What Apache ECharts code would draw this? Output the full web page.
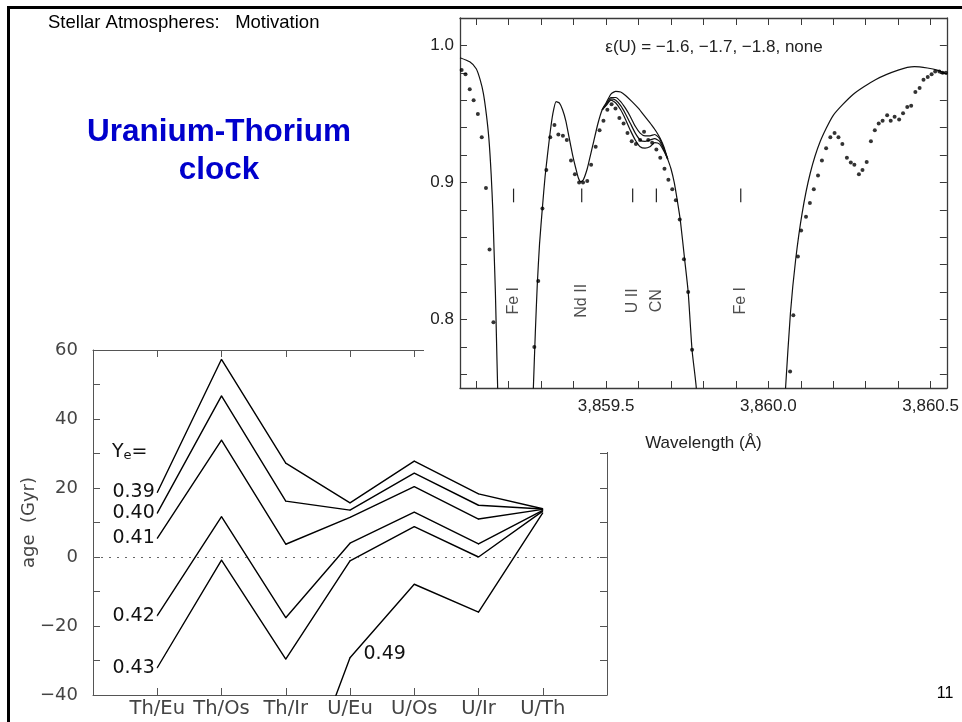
<!DOCTYPE html>
<html>
<head>
<meta charset="utf-8">
<script src="https://cdn.jsdelivr.net/npm/echarts@6/dist/echarts.min.js"></script>
<style>
  html, body { margin: 0; padding: 0; background: #fff; }
  #main { width: 962px; height: 722px; }
</style>
</head>
<body>
<div id="main"></div>
<script>
// ---------- age derived from each chronometer ratio, one line per Y_e ----------
const ratioLabels = ['Th/Eu', 'Th/Os', 'Th/Ir', 'U/Eu', 'U/Os', 'U/Ir', 'U/Th'];
const yeLabels = ['0.39', '0.40', '0.41', '0.42', '0.43', '0.49'];
const ageYe039 = [18.7, 57.3, 27.2, 15.7, 27.8, 18.3, 14.0];
const ageYe040 = [12.7, 46.7, 16.2, 13.6, 24.3, 15.0, 13.9];
const ageYe041 = [5.4, 33.9, 3.7, 11.5, 20.4, 11.0, 13.8];
const ageYe042 = [-17.0, 11.7, -17.6, 4.0, 13.0, 3.8, 13.5];
const ageYe043 = [-32.1, -0.9, -29.6, -1.1, 8.8, 0.0, 13.3];
const ageYe049 = [null, null, -79.0, -29.2, -7.9, -16.0, 12.8];
const ageLabelTicks = [-40, -20, 0, 20, 40, 60];

// ---------- CS 31082-001 spectrum around the U II line ----------
const observed = [
  [3859.055, 0.982], [3859.067, 0.979], [3859.080, 0.968], [3859.092, 0.960], [3859.105, 0.950],
  [3859.117, 0.933], [3859.130, 0.896], [3859.141, 0.851], [3859.153, 0.798],
  [3859.279, 0.780], [3859.291, 0.828], [3859.304, 0.881], [3859.316, 0.909], [3859.328, 0.933],
  [3859.341, 0.942], [3859.353, 0.935], [3859.367, 0.934], [3859.379, 0.931], [3859.392, 0.916],
  [3859.404, 0.906], [3859.417, 0.900], [3859.429, 0.900], [3859.442, 0.901], [3859.454, 0.913],
  [3859.468, 0.926], [3859.480, 0.938], [3859.492, 0.945], [3859.504, 0.953], [3859.517, 0.957],
  [3859.529, 0.954], [3859.541, 0.947], [3859.554, 0.943], [3859.566, 0.936], [3859.579, 0.930],
  [3859.592, 0.928], [3859.605, 0.931], [3859.617, 0.937], [3859.630, 0.931], [3859.642, 0.929],
  [3859.655, 0.924], [3859.667, 0.918], [3859.680, 0.910], [3859.692, 0.902], [3859.704, 0.895],
  [3859.715, 0.887], [3859.727, 0.873], [3859.740, 0.844], [3859.753, 0.820], [3859.765, 0.778],
  [3860.067, 0.762], [3860.077, 0.803], [3860.091, 0.846], [3860.101, 0.865], [3860.116, 0.875],
  [3860.128, 0.885], [3860.140, 0.895], [3860.153, 0.905], [3860.165, 0.916], [3860.178, 0.925],
  [3860.191, 0.933], [3860.204, 0.936], [3860.216, 0.933], [3860.228, 0.928], [3860.242, 0.918],
  [3860.254, 0.9145], [3860.265, 0.913], [3860.279, 0.906], [3860.290, 0.909], [3860.303, 0.915],
  [3860.316, 0.930], [3860.328, 0.938], [3860.340, 0.943], [3860.352, 0.945], [3860.366, 0.949],
  [3860.377, 0.945], [3860.389, 0.948], [3860.403, 0.946], [3860.415, 0.9505], [3860.428, 0.955],
  [3860.440, 0.956], [3860.453, 0.966], [3860.466, 0.969], [3860.478, 0.975], [3860.491, 0.977],
  [3860.503, 0.979], [3860.514, 0.981], [3860.527, 0.981], [3860.537, 0.980], [3860.547, 0.980]
];

// synthetic spectrum: blue part shared by all four models
const synthBlue = [
  [3859.050, 0.991], [3859.080, 0.988], [3859.100, 0.983], [3859.112, 0.975], [3859.122, 0.965],
  [3859.131, 0.950], [3859.139, 0.932], [3859.146, 0.906], [3859.151, 0.880], [3859.155, 0.850],
  [3859.159, 0.820], [3859.162, 0.790], [3859.166, 0.750], [3859.178, 0.660], [3859.220, 0.560],
  [3859.262, 0.660], [3859.276, 0.750], [3859.282, 0.790], [3859.288, 0.825], [3859.295, 0.855],
  [3859.304, 0.882], [3859.312, 0.904], [3859.320, 0.921], [3859.328, 0.937], [3859.336, 0.950],
  [3859.346, 0.959], [3859.356, 0.958], [3859.366, 0.953], [3859.376, 0.945], [3859.386, 0.933],
  [3859.397, 0.920], [3859.407, 0.910], [3859.415, 0.903], [3859.422, 0.9005], [3859.430, 0.902],
  [3859.442, 0.910], [3859.452, 0.920], [3859.462, 0.930], [3859.475, 0.943], [3859.488, 0.953]
];
// the U II blend, one segment per uranium abundance
const synthNoU = [
  [3859.500, 0.958], [3859.515, 0.9645], [3859.530, 0.9665], [3859.545, 0.966], [3859.560, 0.9635],
  [3859.580, 0.959], [3859.600, 0.954], [3859.620, 0.948], [3859.640, 0.942], [3859.655, 0.937],
  [3859.667, 0.932], [3859.678, 0.926]
];
const synthU18 = [
  [3859.500, 0.957], [3859.515, 0.962], [3859.530, 0.962], [3859.545, 0.959], [3859.560, 0.954],
  [3859.575, 0.948], [3859.590, 0.941], [3859.605, 0.936], [3859.620, 0.934], [3859.635, 0.934],
  [3859.650, 0.935], [3859.665, 0.932], [3859.678, 0.925]
];
const synthU17 = [
  [3859.500, 0.957], [3859.515, 0.961], [3859.530, 0.960], [3859.545, 0.956], [3859.560, 0.950],
  [3859.575, 0.943], [3859.590, 0.936], [3859.605, 0.931], [3859.620, 0.930], [3859.635, 0.931],
  [3859.650, 0.932], [3859.665, 0.930], [3859.678, 0.924]
];
const synthU16 = [
  [3859.500, 0.956], [3859.515, 0.960], [3859.530, 0.958], [3859.545, 0.953], [3859.560, 0.946],
  [3859.575, 0.938], [3859.590, 0.931], [3859.605, 0.926], [3859.620, 0.925], [3859.635, 0.926],
  [3859.650, 0.929], [3859.665, 0.928], [3859.678, 0.923]
];
// red part shared by all four models
const synthRed = [
  [3859.690, 0.917], [3859.700, 0.910], [3859.710, 0.900], [3859.720, 0.886], [3859.729, 0.872],
  [3859.742, 0.844], [3859.753, 0.820], [3859.765, 0.7775], [3859.778, 0.750], [3859.800, 0.660],
  [3859.915, 0.560], [3860.030, 0.660], [3860.053, 0.750], [3860.068, 0.8045], [3860.084, 0.8434],
  [3860.104, 0.8775], [3860.129, 0.9067], [3860.160, 0.930], [3860.200, 0.949], [3860.260, 0.964],
  [3860.330, 0.975], [3860.400, 0.982], [3860.450, 0.9845], [3860.490, 0.9835], [3860.520, 0.982],
  [3860.550, 0.979]
];
const lineIdWavelength = [3859.215, 3859.425, 3859.582, 3859.655, 3859.915];
const lineIdLabel = ['Fe I', 'Nd II', 'U II', 'CN', 'Fe I'];
const fluxLabelTicks = [0.8, 0.9, 1.0];
const wavelengthLabelTicks = [3859.5, 3860.0, 3860.5];

// ---------- helpers ----------
function stepList(from, to, step, digits) {
  const out = [];
  const n = Math.round((to - from) / step);
  for (let i = 0; i <= n; i++) out.push(+(from + i * step).toFixed(digits));
  return out;
}
const minus = v => (v < 0 ? '\u2212' + Math.abs(v) : String(v));
const wlFmt = v => v.toFixed(1).replace(/^(\d)(\d{3})/, '$1,$2');

const IDL_FONT = 'DejaVu Sans';
const HELV = 'Liberation Sans, Arial, Helvetica, sans-serif';
const frameGrey = '#555';
const specFrame = '#3a3a3a';

function ageSeries(values, idx) {
  const data = values.map((v, i) => [i + 1, v]);
  const labelIdx = idx === 5 ? 3 : 0;
  data[labelIdx] = {
    value: data[labelIdx],
    label: idx === 5
      ? { show: true, position: 'right', distance: 13, offset: [0, -4], formatter: yeLabels[idx] }
      : { show: true, position: 'left', distance: 2, formatter: yeLabels[idx] }
  };
  return {
    type: 'line', xAxisIndex: 0, yAxisIndex: 0, data,
    symbol: 'circle', symbolSize: 1, showSymbol: true, clip: true, silent: true,
    itemStyle: { color: '#000' },
    lineStyle: { color: '#000', width: 1.4 },
    label: { fontFamily: IDL_FONT, fontSize: 19, color: '#111' },
    zlevel: 0
  };
}

const specLine = (data) => ({
  type: 'line', xAxisIndex: 2, yAxisIndex: 2, data,
  symbol: 'none', clip: true, silent: true, smooth: 0.2,
  lineStyle: { color: '#111', width: 1.2 },
  zlevel: 1, z: 3
});
const joinBlend = seg => [synthBlue[synthBlue.length - 1]].concat(seg, [synthRed[0]]);

const ageSeriesList = [ageYe039, ageYe040, ageYe041, ageYe042, ageYe043, ageYe049].map(ageSeries);
ageSeriesList[0].markLine = {
  silent: true, symbol: 'none', label: { show: false },
  lineStyle: { color: '#666', width: 1, type: [2, 6] },
  data: [{ yAxis: 0 }]
};

const frameAxis = (extra) => Object.assign({
  splitLine: { show: false }
}, extra);

const option = {
  animation: false,
  backgroundColor: '#fff',
  grid: [
    { left: 93, top: 350, width: 514, height: 345 },
    { left: 460, top: 18, width: 491, height: 370 }
  ],
  xAxis: [
    frameAxis({ // ratio axis, bottom
      type: 'value', gridIndex: 0, min: 0, max: 8, position: 'bottom',
      axisLine: { onZero: false, lineStyle: { color: frameGrey, width: 1 } },
      axisTick: { inside: true, length: 7, customValues: [1, 2, 3, 4, 5, 6, 7], lineStyle: { color: frameGrey } },
      axisLabel: { customValues: [1, 2, 3, 4, 5, 6, 7], formatter: v => ratioLabels[v - 1] || '',
        fontFamily: IDL_FONT, fontSize: 19.5, color: '#444', margin: 4 },
      zlevel: 0
    }),
    frameAxis({ // ratio axis, top frame
      type: 'value', gridIndex: 0, min: 0, max: 8, position: 'top',
      axisLine: { onZero: false, lineStyle: { color: frameGrey, width: 1 } },
      axisTick: { inside: true, length: 7, customValues: [1, 2, 3, 4, 5, 6, 7], lineStyle: { color: frameGrey } },
      axisLabel: { show: false }, zlevel: 0
    }),
    frameAxis({ // wavelength, bottom
      type: 'value', gridIndex: 1, min: 3859.05, max: 3860.55, position: 'bottom',
      name: 'Wavelength (\u00C5)', nameLocation: 'middle', nameGap: 47, nameMoveOverlap: false,
      nameTextStyle: { fontFamily: HELV, fontSize: 17, color: '#222' },
      axisLine: { onZero: false, lineStyle: { color: specFrame, width: 1.3 } },
      axisTick: { inside: true, length: 7, customValues: stepList(3859.1, 3860.5, 0.1, 1), lineStyle: { color: specFrame } },
      axisLabel: { customValues: wavelengthLabelTicks, formatter: wlFmt,
        fontFamily: HELV, fontSize: 17, color: '#222', margin: 10 },
      zlevel: 1
    }),
    frameAxis({ // wavelength, top frame
      type: 'value', gridIndex: 1, min: 3859.05, max: 3860.55, position: 'top',
      axisLine: { onZero: false, lineStyle: { color: specFrame, width: 1.3 } },
      axisTick: { inside: true, length: 7, customValues: stepList(3859.1, 3860.5, 0.1, 1), lineStyle: { color: specFrame } },
      axisLabel: { show: false }, zlevel: 1
    })
  ],
  yAxis: [
    frameAxis({ // age, left
      type: 'value', gridIndex: 0, min: -40, max: 60, position: 'left',
      name: 'age  (Gyr)', nameLocation: 'middle', nameGap: 55, nameRotate: 90, nameMoveOverlap: false,
      nameTextStyle: { fontFamily: IDL_FONT, fontSize: 18, color: '#444' },
      axisLine: { show: true, onZero: false, lineStyle: { color: frameGrey, width: 1 } },
      axisTick: { show: true, inside: true, length: 7, customValues: stepList(-40, 60, 10, 0), lineStyle: { color: frameGrey } },
      axisLabel: { customValues: ageLabelTicks, formatter: minus,
        fontFamily: IDL_FONT, fontSize: 18, color: '#444', margin: 15 },
      zlevel: 0
    }),
    frameAxis({ // age, right frame
      type: 'value', gridIndex: 0, min: -40, max: 60, position: 'right',
      axisLine: { show: true, onZero: false, lineStyle: { color: frameGrey, width: 1 } },
      axisTick: { show: true, inside: true, length: 7, customValues: stepList(-40, 60, 10, 0), lineStyle: { color: frameGrey } },
      axisLabel: { show: false }, zlevel: 0
    }),
    frameAxis({ // relative flux, left
      type: 'value', gridIndex: 1, min: 0.75, max: 1.02, position: 'left',
      axisLine: { show: true, onZero: false, lineStyle: { color: specFrame, width: 1.3 } },
      axisTick: { show: true, inside: true, length: 7, customValues: stepList(0.76, 1.02, 0.02, 2), lineStyle: { color: specFrame } },
      axisLabel: { customValues: fluxLabelTicks, formatter: v => v.toFixed(1),
        fontFamily: HELV, fontSize: 17, color: '#222', margin: 6 },
      zlevel: 1
    }),
    frameAxis({ // relative flux, right frame
      type: 'value', gridIndex: 1, min: 0.75, max: 1.02, position: 'right',
      axisLine: { show: true, onZero: false, lineStyle: { color: specFrame, width: 1.3 } },
      axisTick: { show: true, inside: true, length: 7, customValues: stepList(0.76, 1.02, 0.02, 2), lineStyle: { color: specFrame } },
      axisLabel: { show: false }, zlevel: 1
    })
  ],
  series: [
    ...ageSeriesList,
    specLine(synthBlue.concat(synthNoU, synthRed)),
    specLine(joinBlend(synthU18)),
    specLine(joinBlend(synthU17)),
    specLine(joinBlend(synthU16)),
    {
      type: 'scatter', xAxisIndex: 2, yAxisIndex: 2, data: observed,
      symbol: 'circle', symbolSize: 4, clip: true, silent: true,
      itemStyle: { color: '#000' }, zlevel: 1, z: 4
    },
    { // identification ticks under the lines
      type: 'custom', xAxisIndex: 2, yAxisIndex: 2, silent: true, zlevel: 1, z: 4,
      data: lineIdWavelength.map(w => [w]),
      renderItem: (params, api) => {
        const w = api.value(0);
        const top = api.coord([w, 0.8955]);
        const bot = api.coord([w, 0.8855]);
        return { type: 'line', shape: { x1: top[0], y1: top[1], x2: bot[0], y2: bot[1] },
          style: { stroke: '#222', lineWidth: 1.2 } };
      }
    },
    {
      type: 'scatter', xAxisIndex: 2, yAxisIndex: 2,
      data: lineIdWavelength.map(w => [w, 0.818]),
      symbolSize: 0, silent: true, zlevel: 1, z: 4,
      label: {
        show: true, position: 'inside', rotate: 90, offset: [-6, 0],
        formatter: p => lineIdLabel[p.dataIndex],
        fontFamily: HELV, fontSize: 16, color: '#222'
      }
    }
  ],
  graphic: [
    // the spectrum figure sits on a white panel above the age plot
    { type: 'rect', zlevel: 1, z: -10, silent: true,
      shape: { x: 424, y: 9, width: 538, height: 443 }, style: { fill: '#fff' } },
    { type: 'text', zlevel: 1, z: 5, silent: true, x: 714, y: 47,
      style: { text: '\u03B5(U) = \u22121.6, \u22121.7, \u22121.8, none', fill: '#222',
        font: '17px ' + HELV, textAlign: 'center', textVerticalAlign: 'middle' } },
    // slide heading and title
    { type: 'text', silent: true, x: 48, y: 23,
      style: { text: 'Stellar Atmospheres:   Motivation', fill: '#000',
        font: '18.5px ' + HELV, textVerticalAlign: 'middle' } },
    { type: 'text', silent: true, x: 219, y: 132,
      style: { text: 'Uranium-Thorium', fill: '#0000cc',
        font: 'bold 31.5px ' + HELV, textAlign: 'center', textVerticalAlign: 'middle' } },
    { type: 'text', silent: true, x: 219, y: 170,
      style: { text: 'clock', fill: '#0000cc',
        font: 'bold 31.5px ' + HELV, textAlign: 'center', textVerticalAlign: 'middle' } },
    { type: 'text', silent: true, x: 945, y: 694,
      style: { text: '11', fill: '#000', font: '16px ' + HELV, textAlign: 'center', textVerticalAlign: 'middle' } },
    // Y_e= key in the age plot
    { type: 'text', silent: true, x: 112, y: 452,
      style: {
        text: '{a|Y}{b|e}{a|=}', textVerticalAlign: 'middle',
        rich: {
          a: { fontFamily: IDL_FONT, fontSize: 19, fill: '#111', color: '#111' },
          b: { fontFamily: IDL_FONT, fontSize: 13, fill: '#111', color: '#111', verticalAlign: 'bottom', padding: [8, 0, 0, 0] }
        }
      } },
    // slide frame
    { type: 'line', zlevel: 2, silent: true, shape: { x1: 7, y1: 7.5, x2: 962, y2: 7.5 },
      style: { stroke: '#000', lineWidth: 3 } },
    { type: 'line', zlevel: 2, silent: true, shape: { x1: 8.5, y1: 6, x2: 8.5, y2: 722 },
      style: { stroke: '#000', lineWidth: 3 } }
  ]
};

const chart = echarts.init(document.getElementById('main'), null, { renderer: 'canvas' });
chart.setOption(option);
</script>
</body>
</html>
